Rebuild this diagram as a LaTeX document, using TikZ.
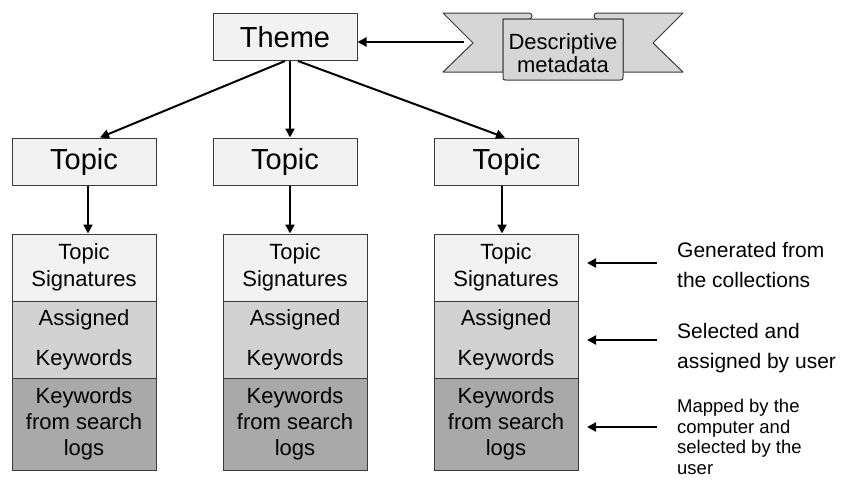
\documentclass[tikz,border=0pt]{standalone}
\usepackage{fontspec}
\setmainfont{Liberation Sans}
\usetikzlibrary{arrows.meta}
\definecolor{boxline}{HTML}{3A3A3A}
\definecolor{lightfill}{HTML}{F2F2F2}
\definecolor{midfill}{HTML}{D2D2D2}
\definecolor{darkfill}{HTML}{A9A9A9}
\definecolor{banfill}{HTML}{D6D6D6}
\begin{document}
\begin{tikzpicture}[x=1pt,y=-1pt,
  box/.style={draw=boxline, line width=1pt, inner sep=0pt, align=center, anchor=center, minimum width=144pt},
  bigbox/.style={box, fill=lightfill, minimum height=47pt, font=\fontsize{29}{34}\selectfont},
  sigbox/.style={box, fill=lightfill, minimum height=67pt, font=\fontsize{22}{27}\selectfont},
  asgbox/.style={box, fill=midfill, minimum height=77pt, font=\fontsize{22}{27}\selectfont},
  logbox/.style={box, fill=darkfill, minimum height=92pt, font=\fontsize{22}{26}\selectfont},
  banner/.style={draw=boxline, line width=1pt, fill=banfill, line join=round},
  anntext/.style={anchor=west, align=left, inner sep=0pt, font=\fontsize{21}{30}\selectfont},
  smalltext/.style={anchor=west, align=left, inner sep=0pt, font=\fontsize{18.5}{20.5}\selectfont},
  arr/.style={-{Triangle[length=9pt,width=9pt]}, line width=2pt},
]
\useasboundingbox (0,0) rectangle (846,485);

% Theme
\node[bigbox] (theme) at (285,37) {Theme};

% Banner
\path[banner] (443,13) -- (529,13) .. controls (533,13) and (533,19) .. (529,19) -- (503,19) -- (503,72) -- (443,72) -- (473,43) -- cycle;
\path[banner] (683,13) -- (597,13) .. controls (593,13) and (593,19) .. (597,19) -- (623,19) -- (623,72) -- (683,72) -- (653,43) -- cycle;
\path[banner] (503,19) -- (503,77) .. controls (503,80) .. (506,80) -- (620,80) .. controls (623,80) .. (623,77) -- (623,19) -- cycle;
\node[align=center, inner sep=0pt, font=\fontsize{22}{23}\selectfont] (meta) at (563,53) {Descriptive\\metadata};
\coordinate (bantip) at (464,42);
\draw[arr] (bantip) -- ([yshift=-5pt]theme.east);

% Topics
\node[bigbox] (topic1) at (84,161.5) {Topic};
\node[bigbox] (topic2) at (285,161.5) {Topic};
\node[bigbox] (topic3) at (506.5,161.5) {Topic};

\draw[arr] (theme.south) -- ([xshift=16pt]topic1.north);
\draw[arr] ([xshift=5pt]theme.south) -- ([xshift=5pt]topic2.north);
\draw[arr] ([xshift=13pt]theme.south) -- ([xshift=-1.5pt]topic3.north);

% Stacks
\foreach \i/\cx in {1/84, 2/295, 3/506} {
  \node[sigbox] (sig\i) at (\cx,267.5) {Topic\\Signatures};
  \node[asgbox] (asg\i) at (\cx,339.5) {Assigned\\[13pt]Keywords};
  \node[logbox] (log\i) at (\cx,424) {Keywords\\from search\\logs};
}

\draw[arr] ([xshift=4pt]topic1.south) -- ([xshift=4pt]sig1.north);
\draw[arr] ([xshift=5pt]topic2.south) -- ([xshift=-5pt]sig2.north);
\draw[arr] ([xshift=-4.5pt]topic3.south) -- ([xshift=-4pt]sig3.north);

% Annotations
\node[anntext] (gen) at (677,265) {Generated from\\the collections};
\node[anntext] (sel) at (677,348) {Selected and\\assigned by user};
\node[smalltext] (map) at (677,437) {Mapped by the\\computer and\\selected by the\\user};

\coordinate (a1) at (657,263); \coordinate (b1) at (587,263);
\coordinate (a2) at (657,340); \coordinate (b2) at (587,340);
\coordinate (a3) at (657,427); \coordinate (b3) at (587,427);
\draw[arr] (a1) -- (b1);
\draw[arr] (a2) -- (b2);
\draw[arr] (a3) -- (b3);
\end{tikzpicture}
\end{document}
